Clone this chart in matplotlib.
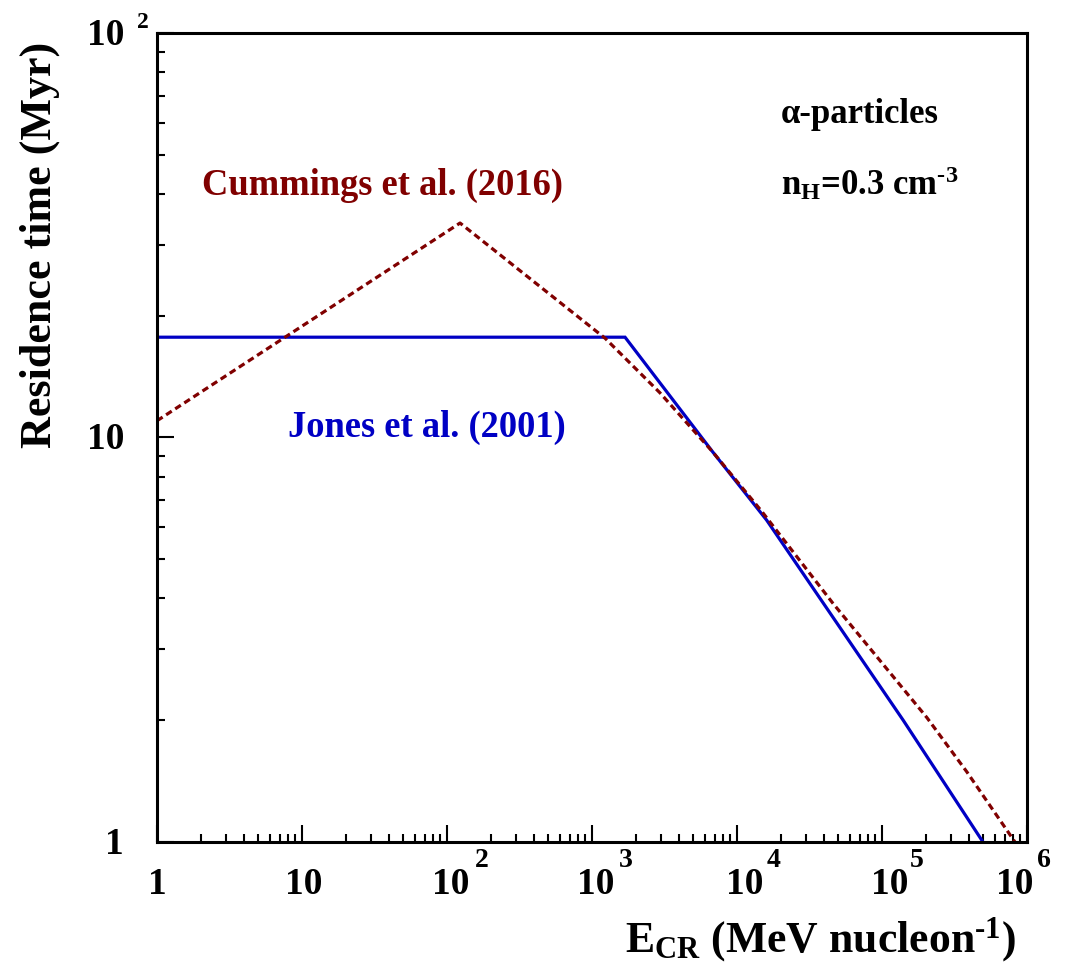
import numpy as np
import matplotlib
matplotlib.use('Agg')
import matplotlib.pyplot as plt
from matplotlib.ticker import FixedLocator, LogLocator, NullFormatter

plt.rcParams['font.family'] = 'Liberation Serif'
plt.rcParams['font.weight'] = 'bold'
plt.rcParams['mathtext.fontset'] = 'custom'
plt.rcParams['mathtext.rm'] = 'Liberation Serif:bold'
plt.rcParams['mathtext.bf'] = 'Liberation Serif:bold'
plt.rcParams['mathtext.it'] = 'Liberation Serif:bold:italic'

# Jones et al. (2001): flat below the break, falling roughly as E^-0.5 above it
jones_E = [1.0, 1690.0, 6820.0, 1.60e4, 1.40e5, 4.97e5]
jones_T = [17.7, 17.7, 9.2, 6.25, 2.0, 1.0]

# Cummings et al. (2016)
cummings_E = [1.0, 123.0, 1230.0, 2940.0, 6820.0, 1.49e4, 4.59e4, 2.04e5, 3.85e5, 8.26e5]
cummings_T = [11.0, 33.9, 17.6, 12.9, 9.2, 6.55, 3.89, 2.03, 1.49, 1.0]

# tick labels: mantissa text plus optional exponent
xticks = [1, 10, 1e2, 1e3, 1e4, 1e5, 1e6]
xtick_base = ['1', '10', '10', '10', '10', '10', '10']
xtick_exp = ['', '', '2', '3', '4', '5', '6']
yticks = [1, 10, 100]
ytick_base = ['1', '10', '10']
ytick_exp = ['', '', '2']

blue = '#0000c4'
maroon = '#800000'

fig = plt.figure(figsize=(10.79, 9.65), dpi=100)
ax = fig.add_axes([157/1079, 1 - 842/965, 870/1079, 809/965])

ax.plot(jones_E, jones_T, color=blue, lw=2.3, solid_joinstyle='miter')
ax.plot(cummings_E, cummings_T, color=maroon, lw=2.3, dashes=(2.1, 1.3))

ax.set_xscale('log')
ax.set_yscale('log')
ax.set_xlim(1, 1e6)
ax.set_ylim(1, 100)

ax.xaxis.set_major_locator(FixedLocator(xticks))
ax.xaxis.set_minor_locator(LogLocator(base=10, subs=np.arange(2, 10)))
ax.yaxis.set_major_locator(FixedLocator(yticks))
ax.yaxis.set_minor_locator(LogLocator(base=10, subs=np.arange(2, 10)))
for a in (ax.xaxis, ax.yaxis):
    a.set_major_formatter(NullFormatter())
    a.set_minor_formatter(NullFormatter())

ax.tick_params(which='both', direction='in', top=False, right=False, width=1.5)
ax.tick_params(which='major', length=12.5)
ax.tick_params(which='minor', length=6)
for sp in ax.spines.values():
    sp.set_linewidth(2.2)

# x tick labels, ROOT style (exponent set off to the right)
base_dx = [0, 2, 4, 4, 8, 8, -12]
exp_dx = [0, 0, 35, 34, 37, 35, 17]
for v, b, e, bdx, edx in zip(xticks, xtick_base, xtick_exp, base_dx, exp_dx):
    ax.annotate(b, xy=(v, 0), xycoords=('data', 'axes fraction'), xytext=(bdx, -52),
                textcoords='offset pixels', ha='center', va='baseline', fontsize=27)
    if e:
        ax.annotate(e, xy=(v, 0), xycoords=('data', 'axes fraction'), xytext=(edx, -25),
                    textcoords='offset pixels', ha='center', va='baseline', fontsize=20)

for v, b, e in zip(yticks, ytick_base, ytick_exp):
    ax.annotate(b, xy=(0, v), xycoords=('axes fraction', 'data'), xytext=(-33, -12),
                textcoords='offset pixels', ha='right', va='baseline', fontsize=27)
    if e:
        ax.annotate(e, xy=(0, v), xycoords=('axes fraction', 'data'), xytext=(-14, 5),
                    textcoords='offset pixels', ha='center', va='baseline', fontsize=17)

ax.text(0.0517, 0.7998, 'Cummings et al. (2016)', transform=ax.transAxes, color=maroon,
        fontsize=26.3, va='baseline')
ax.text(0.1506, 0.5006, 'Jones et al. (2001)', transform=ax.transAxes, color=blue,
        fontsize=26.3, va='baseline')
ax.text(0.7175, 0.8884, 'α-particles', transform=ax.transAxes,
        fontsize=25, va='baseline')
ax.text(0.7175, 0.7998, 'n$_{\\mathbf{H}}$=0.3 cm$^{\\mathbf{\u20103}}$', transform=ax.transAxes,
        fontsize=25, va='baseline')

fig.text(625/1079, 1 - 951.7/965, 'E$_{\\mathbf{CR}}$ (MeV nucleon$^{\\mathbf{\u20101}}$)',
         fontsize=31.5, ha='left', va='baseline')
fig.text(40/1079, 1 - 42/965, 'Residence time (Myr)', fontsize=31.8,
         rotation=90, ha='center', va='top')

fig.savefig('out.png', dpi=100)
